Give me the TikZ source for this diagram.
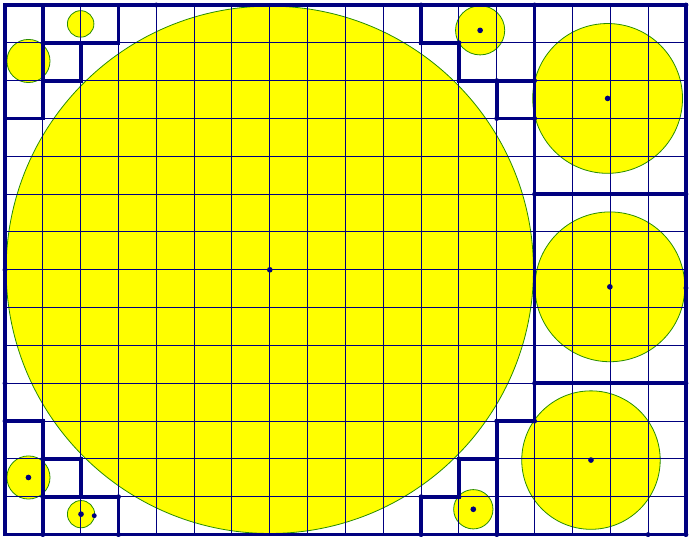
\documentclass[tikz,border=0pt]{standalone}
\definecolor{navy}{RGB}{0,0,128}
\definecolor{cyellow}{RGB}{255,255,0}
\definecolor{cedge}{RGB}{40,140,0}
\begin{document}
\begin{tikzpicture}[x=1cm,y=-1cm,
  disk/.style={fill=cyellow,draw=cedge,line width=0.6pt},
  gridline/.style={draw=navy,line width=0.75pt},
  thickline/.style={draw=navy,line width=2.8pt,line cap=rect,line join=miter},
  pt/.style={fill=navy}]
\useasboundingbox (-0.132,-0.132) rectangle (18.108,14.063);
% circles
\coordinate (cBig) at (7,7);
\coordinate (cTL1) at (2.0,0.50);
\coordinate (cTL2) at (0.62,1.48);
\coordinate (cBL1) at (0.62,12.49);
\coordinate (cBL2) at (2.01,13.46);
\coordinate (cTR) at (12.56,0.67);
\coordinate (cBR) at (12.38,13.33);
\coordinate (cR1) at (15.93,2.47);
\coordinate (cR2) at (15.99,7.45);
\coordinate (cR3) at (15.49,12.03);
\path[disk] (cBig) circle (6.97);
\path[disk] (cTL1) circle (0.35);
\path[disk] (cTL2) circle (0.57);
\path[disk] (cBL1) circle (0.57);
\path[disk] (cBL2) circle (0.36);
\path[disk] (cTR) circle (0.65);
\path[disk] (cBR) circle (0.52);
\path[disk] (cR1) circle (1.98);
\path[disk] (cR2) circle (1.98);
\path[disk] (cR3) circle (1.83);
% thin grid
\foreach \i in {0,...,18} \draw[gridline] (\i,0) -- (\i,14);
\foreach \j in {0,...,14} \draw[gridline] (0,\j) -- (18,\j);
% thick lines
\draw[thickline] (0,0) rectangle (18,14);
\draw[thickline] (14,0) -- (14,11);
\draw[thickline] (14,5) -- (18,5);
\draw[thickline] (14,10) -- (18,10);
% top-left
\draw[thickline] (3,0) -- (3,1) -- (1,1);
\draw[thickline] (2,1) -- (2,2) -- (1,2);
\draw[thickline] (1,0) -- (1,3) -- (0,3);
% bottom-left
\draw[thickline] (0,11) -- (1,11) -- (1,14);
\draw[thickline] (1,12) -- (2,12) -- (2,13);
\draw[thickline] (1,13) -- (3,13) -- (3,14);
% top-right
\draw[thickline] (11,0) -- (11,1) -- (12,1) -- (12,2) -- (14,2);
\draw[thickline] (13,2) -- (13,3) -- (14,3);
% bottom-right
\draw[thickline] (14,11) -- (13,11) -- (13,14);
\draw[thickline] (13,12) -- (12,12) -- (12,13) -- (11,13) -- (11,14);
% points
\foreach \c in {cBig,cBL1,cBL2,cTR,cBR,cR1,cR2,cR3}
  \fill[pt] (\c) circle (0.075);
\foreach \p in {(2.36,13.5),(18,7.48),(0,7),(0,10),(4,0),(17,14),
  (11,0),(14,0),(11,1),(12,1),(12,2),(13,2),(14,2),(13,3),(14,3),
  (13,11),(14,11),(12,12),(13,12),(11,13),(12,13),(11,14),(13,14),
  (0,11),(1,11),(1,12),(2,12),(1,13),(2,13),(3,13),(1,14),(3,14),
  (14,5),(18,5),(14,10),(18,10),(18,0),(18,14)}
  \fill[pt] \p circle (0.065);
\end{tikzpicture}
\end{document}
